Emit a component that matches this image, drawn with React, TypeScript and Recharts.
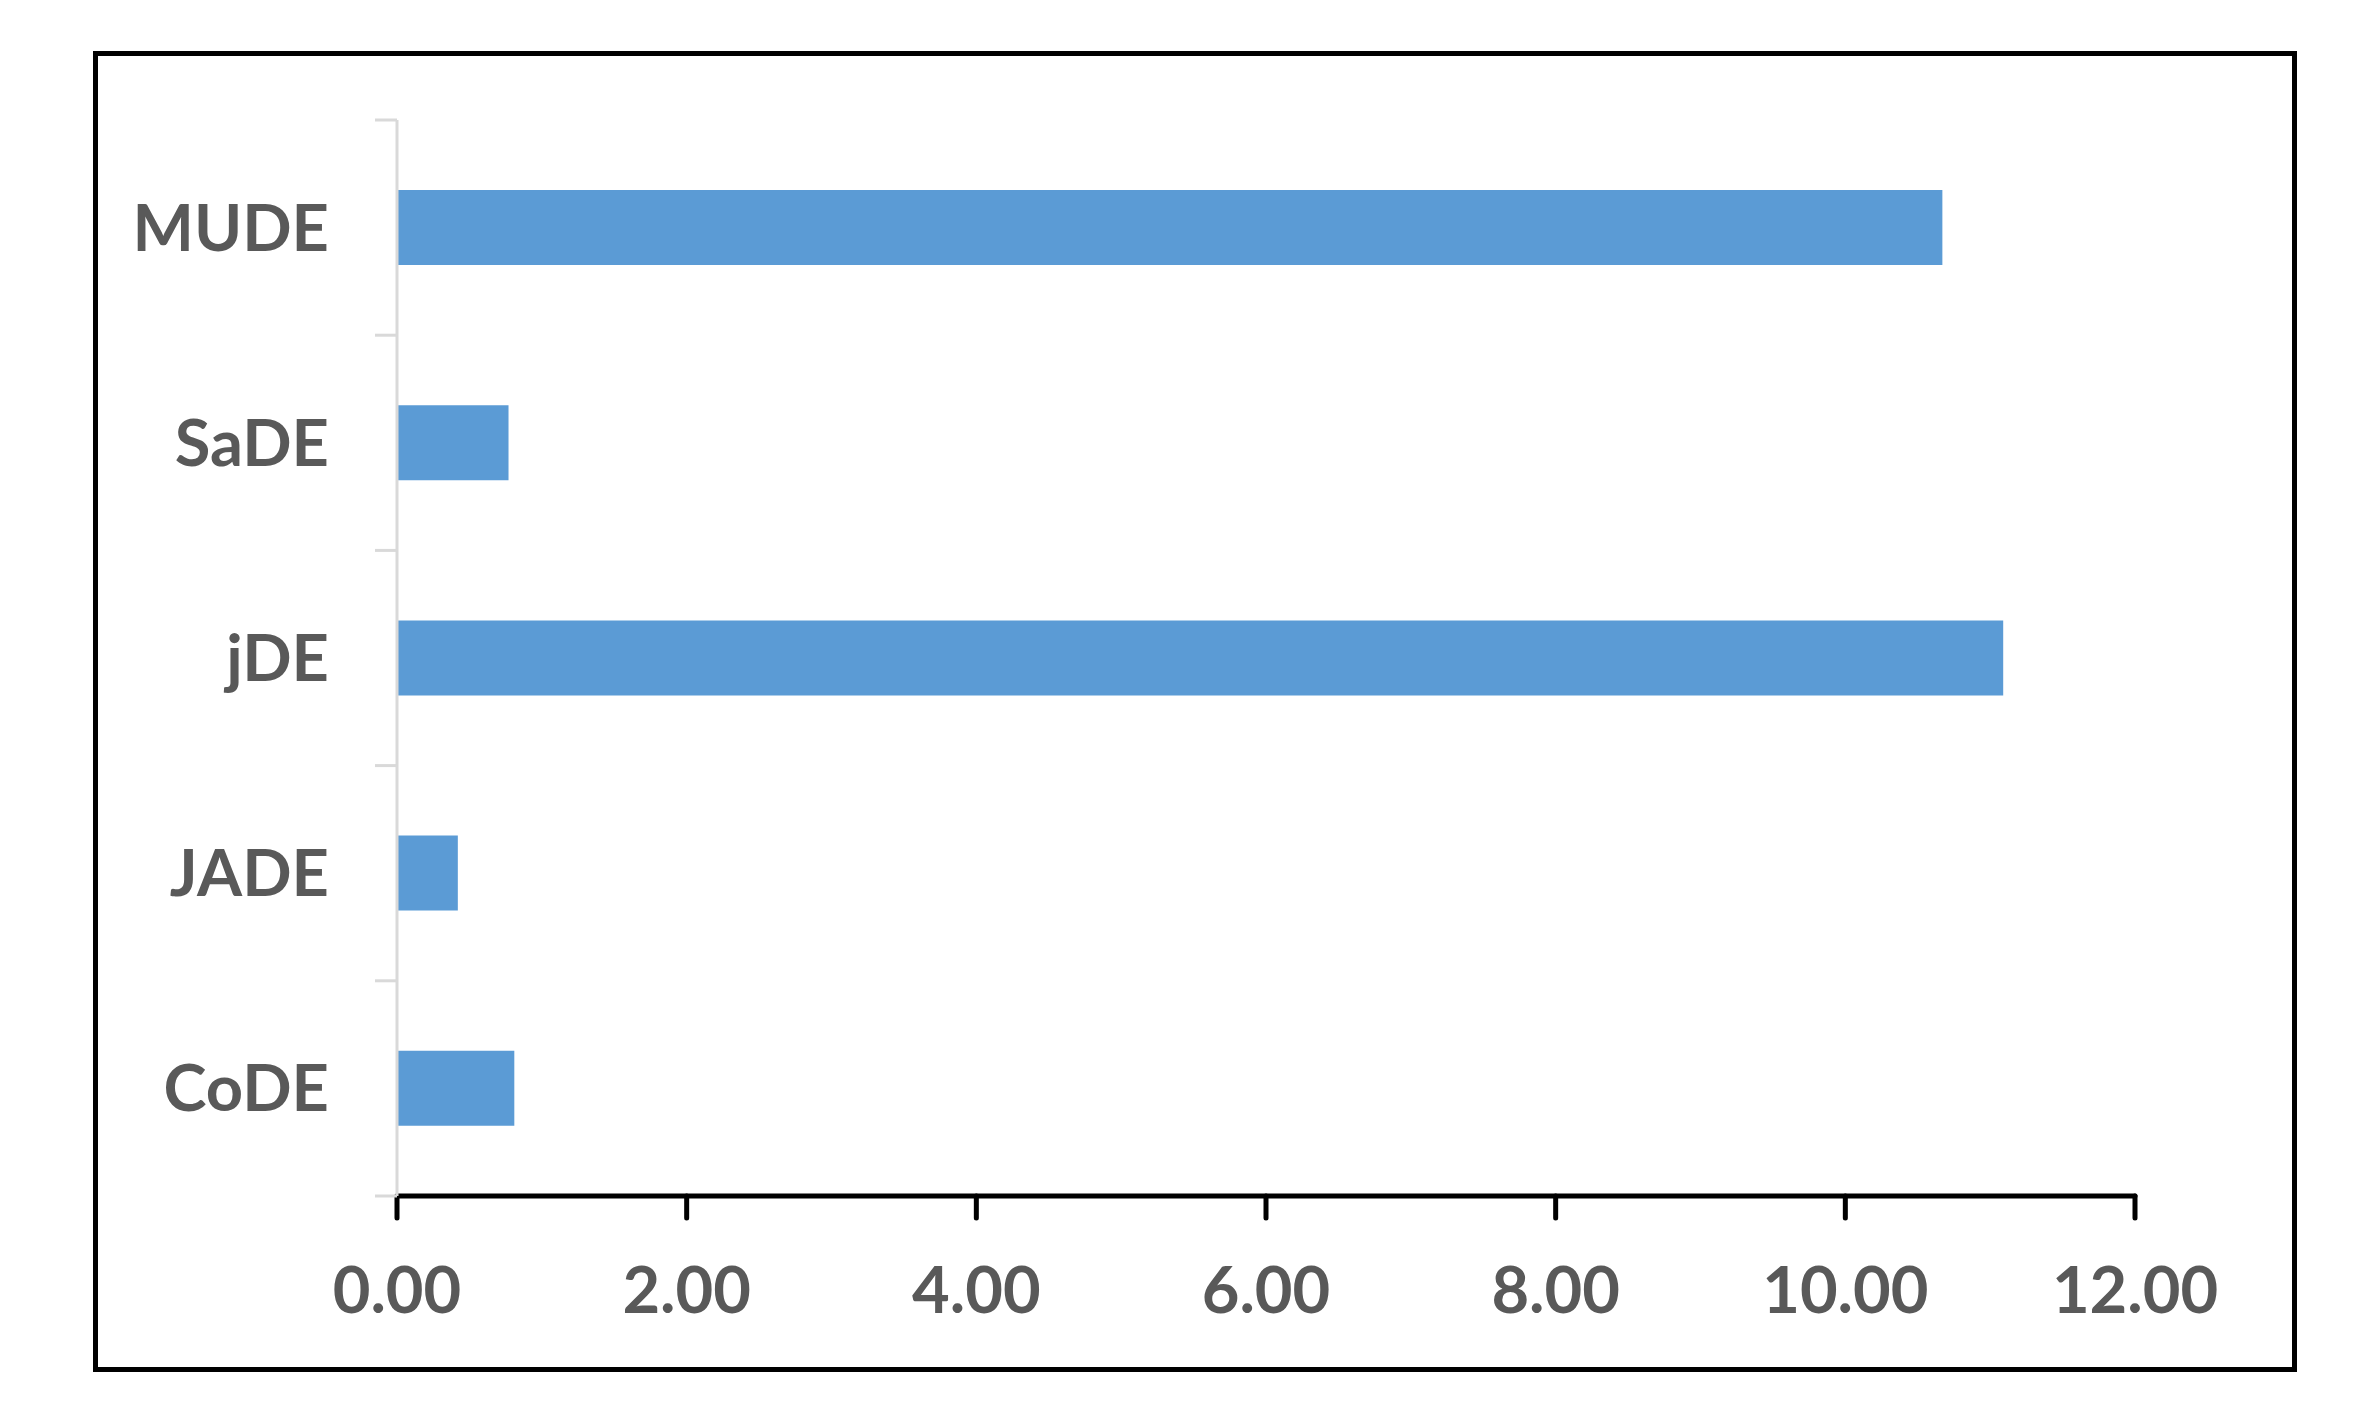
import React from "react";
import { BarChart, Bar, XAxis, YAxis } from "recharts";

const categories = ["MUDE", "SaDE", "jDE", "JADE", "CoDE"];
const values = [10.67, 0.77, 11.09, 0.42, 0.81];
const xTicks = [0, 2, 4, 6, 8, 10, 12];

const data = categories.map((name, i) => ({ name, value: values[i] }));

const W = 2354;
const H = 1425;

const labelStyle = {
  fill: "#595959",
  fontSize: 65,
  fontWeight: 700,
  fontFamily: "Lato, 'Open Sans', sans-serif",
};

const Y_TICK_SIZE = 22;
const Y_TICK_MARGIN = 46;

const CategoryTick = (props: any) => {
  const { x, y, payload, index, visibleTicksCount } = props;
  const half = payload && payload.offset ? payload.offset : 0;
  const axisX = x + Y_TICK_SIZE + Y_TICK_MARGIN;
  const isLast = index === (visibleTicksCount ?? categories.length) - 1;
  return (
    <g>
      <line
        x1={axisX - Y_TICK_SIZE}
        x2={axisX}
        y1={y - half}
        y2={y - half}
        stroke="#d9d9d9"
        strokeWidth={3}
      />
      {isLast && (
        <line
          x1={axisX - Y_TICK_SIZE}
          x2={axisX}
          y1={y + half}
          y2={y + half}
          stroke="#d9d9d9"
          strokeWidth={3}
        />
      )}
      <text
        x={x}
        y={y}
        dy="0.355em"
        textAnchor="end"
        fill={labelStyle.fill}
        fontSize={labelStyle.fontSize}
        fontWeight={labelStyle.fontWeight}
        fontFamily={labelStyle.fontFamily}
      >
        {payload.value}
      </text>
    </g>
  );
};

export default function App() {
  return (
    <div
      style={{
        position: "absolute",
        left: 0,
        top: 0,
        width: W,
        height: H,
        background: "#ffffff",
      }}
    >
      <div
        style={{
          position: "absolute",
          left: 93,
          top: 51,
          width: 2204,
          height: 1321,
          border: "5px solid #000",
          boxSizing: "border-box",
        }}
      />
      <div style={{ position: "absolute", left: 0, top: 0 }}>
        <BarChart
          width={W}
          height={H}
          data={data}
          layout="vertical"
          margin={{ top: 120, right: 219, bottom: 129, left: 396 }}
        >
          <XAxis
            type="number"
            domain={[0, 12]}
            ticks={xTicks}
            interval={0}
            height={100}
            stroke="#000"
            strokeWidth={5}
            tickFormatter={(v: number) => v.toFixed(2)}
            axisLine={{ stroke: "#000", strokeWidth: 5, strokeLinecap: "round" }}
            tickLine={{ stroke: "#000", strokeWidth: 5, strokeLinecap: "round" }}
            tickSize={22}
            tickMargin={49}
            tick={labelStyle}
          />
          <YAxis
            type="category"
            dataKey="name"
            width={1}
            interval={0}
            stroke="#d9d9d9"
            strokeWidth={3}
            axisLine={{ stroke: "#d9d9d9", strokeWidth: 3 }}
            tickLine={false}
            tickSize={Y_TICK_SIZE}
            tickMargin={Y_TICK_MARGIN}
            tick={CategoryTick}
          />
          <Bar dataKey="value" fill="#5B9BD5" barSize={75} isAnimationActive={false} />
        </BarChart>
      </div>
    </div>
  );
}
